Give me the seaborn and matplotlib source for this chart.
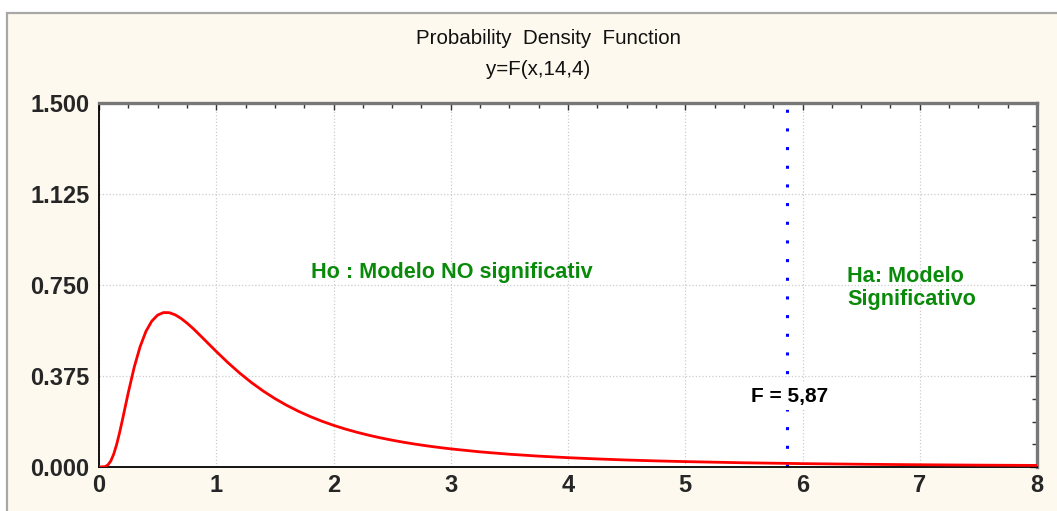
import matplotlib
matplotlib.use("Agg")
import matplotlib.pyplot as plt
from matplotlib.patches import Rectangle
from matplotlib.ticker import MultipleLocator, FixedLocator
import seaborn as sns

# F(14, 4) density, sampled along x
x_vals = [0.0, 0.05, 0.075, 0.1, 0.125, 0.15, 0.175, 0.2, 0.225, 0.25, 0.3,
          0.35, 0.4, 0.45, 0.5, 0.55, 0.6, 0.65, 0.7, 0.75, 0.8, 0.85, 0.9,
          0.95, 1.0, 1.1, 1.2, 1.3, 1.4, 1.5, 1.6, 1.7, 1.8, 1.9, 2.0, 2.1,
          2.2, 2.3, 2.4, 2.5, 2.6, 2.7, 2.8, 2.9, 3.0, 3.25, 3.5, 3.75, 4.0,
          4.25, 4.5, 4.75, 5.0, 5.5, 6.0, 6.5, 7.0, 7.5, 8.0]
pdf_vals = [0.0, 0.0013, 0.0079, 0.0242, 0.0525, 0.0920, 0.1404, 0.1944,
            0.2509, 0.3070, 0.4107, 0.4950, 0.5586, 0.6010, 0.6260, 0.6365,
            0.6359, 0.6270, 0.6122, 0.5933, 0.5720, 0.5484, 0.5244, 0.5002,
            0.4762, 0.4299, 0.3870, 0.3481, 0.3132, 0.2820, 0.2544, 0.2299,
            0.2082, 0.1889, 0.1718, 0.1566, 0.1431, 0.1310, 0.1202, 0.1105,
            0.1018, 0.0939, 0.0869, 0.0805, 0.0747, 0.0624, 0.0526, 0.0448,
            0.0384, 0.0332, 0.0288, 0.0252, 0.0222, 0.0174, 0.0139, 0.0113,
            0.0093, 0.0077, 0.0065]

f_crit = 5.87
x_ticks = [0, 1, 2, 3, 4, 5, 6, 7, 8]
y_ticks = [0.0, 0.375, 0.75, 1.125, 1.5]
y_tick_labels = ["0.000", "0.375", "0.750", "1.125", "1.500"]

title_line1 = "Probability  Density  Function"
title_line2 = "y=F(x,14,4)"
ho_text = "Ho : Modelo NO significativ"
ha_text = "Ha: Modelo\nSignificativo"

sns.set_style("white")
plt.rcParams["font.family"] = ["Liberation Sans", "DejaVu Sans"]

W, H = 1057, 511
fig = plt.figure(figsize=(W / 100, H / 100), dpi=100, facecolor="white")

# cream panel with grey frame, kept behind everything else
panel = Rectangle((7 / W, -0.1), 1.2, 1 - 13 / H + 0.1, transform=fig.transFigure,
                  facecolor="#fef9ee", edgecolor="#a8a8a8", linewidth=1.6,
                  zorder=-10)
fig.patches.append(panel)

ax = fig.add_axes([99 / W, 1 - 467 / H, (1037 - 99) / W, (467 - 103) / H])
ax.set_zorder(1)
ax.set_facecolor("white")

sns.lineplot(x=x_vals, y=pdf_vals, color="#ff0000", linewidth=2.0,
             estimator=None, sort=False, ax=ax, zorder=3)
for ln in ax.get_lines():
    ln.set_solid_joinstyle("round")
    ln.set_solid_capstyle("round")

# critical value marker
ax.plot([f_crit, f_crit], [0, 1.5], color="#0000ff", linewidth=2.2,
        linestyle=(0, (1, 5.11)), dash_capstyle="butt", zorder=2)

ax.set_xlim(0, 8)
ax.set_ylim(0, 1.5)
ax.xaxis.set_major_locator(FixedLocator(x_ticks))
ax.yaxis.set_major_locator(FixedLocator(y_ticks))
ax.xaxis.set_minor_locator(MultipleLocator(0.25))
ax.yaxis.set_minor_locator(MultipleLocator(0.09375))
ax.set_xticklabels([str(t) for t in x_ticks], fontsize=17, fontweight="bold")
ax.set_yticklabels(y_tick_labels, fontsize=17, fontweight="bold")
ax.tick_params(which="both", direction="in", top=True, right=True,
               color="#333333", width=1)
ax.tick_params(which="major", length=5)
ax.tick_params(axis="y", which="major", pad=7)
ax.tick_params(axis="x", which="major", pad=5)
ax.tick_params(which="minor", length=3.5)

ax.grid(True, which="major", linestyle=":", color="#cccccc", linewidth=0.9)
ax.set_axisbelow(True)
ax.set_xlabel("")
ax.set_ylabel("")

for side in ("left", "bottom"):
    ax.spines[side].set_color("black")
    ax.spines[side].set_linewidth(1.3)
for side in ("top", "right"):
    ax.spines[side].set_color("#777777")
    ax.spines[side].set_linewidth(2.4)

green = "#0a8a0a"
ax.text(1.81, 0.80, ho_text, color=green, fontsize=15.6, fontweight="bold",
        ha="left", va="center")
ax.text(6.38, 0.738, ha_text, color=green, fontsize=15.6, fontweight="bold",
        ha="left", va="center", linespacing=1.17)
ax.text(5.56, 0.29, "F = " + f"{f_crit:.2f}".replace(".", ","), color="black",
        fontsize=15, fontweight="bold", ha="left", va="center",
        bbox=dict(facecolor="white", edgecolor="none", pad=3), zorder=4)

fig.text(548 / W, 1 - 44 / H, title_line1, fontsize=14.8, ha="center",
         va="baseline", color="#111111")
fig.text(538 / W, 1 - 75 / H, title_line2, fontsize=14.8, ha="center",
         va="baseline", color="#111111")

fig.savefig("out.png", dpi=100, facecolor=fig.get_facecolor())
